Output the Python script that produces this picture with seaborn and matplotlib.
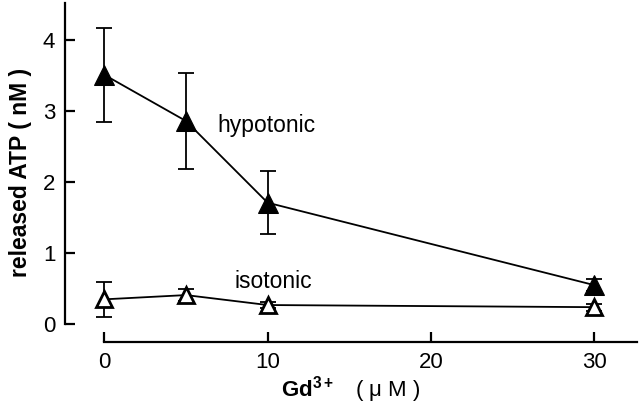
import matplotlib
matplotlib.use('Agg')
import matplotlib.pyplot as plt
import seaborn as sns
import pandas as pd

# Data
gd_conc = [0, 5, 10, 30]
hypo_mean = [3.51, 2.86, 1.71, 0.55]
hypo_err = [0.66, 0.67, 0.44, 0.08]
iso_mean = [0.35, 0.41, 0.27, 0.24]
iso_err = [0.25, 0.09, 0.04, 0.05]

df = pd.DataFrame({
    'gd': gd_conc * 2,
    'atp': hypo_mean + iso_mean,
    'err': hypo_err + iso_err,
    'cond': ['hypotonic'] * 4 + ['isotonic'] * 4,
})

sns.set_theme(style='ticks')
plt.rcParams['font.family'] = ['Liberation Sans', 'DejaVu Sans']
plt.rcParams['mathtext.fontset'] = 'custom'
plt.rcParams['mathtext.rm'] = 'Liberation Sans'
plt.rcParams['mathtext.bf'] = 'Liberation Sans:bold'
plt.rcParams['text.color'] = 'black'
plt.rcParams['axes.labelcolor'] = 'black'

fig = plt.figure(figsize=(6.4, 4.04), dpi=100)
ax = fig.add_axes([0.1016, 0.1535, 0.8934, 0.8391])

# Error bars first so markers sit on top
for cond in ['hypotonic', 'isotonic']:
    d = df[df['cond'] == cond]
    ax.errorbar(d['gd'], d['atp'], yerr=d['err'], fmt='none', ecolor='black',
                elinewidth=1.3, capsize=6, capthick=1.3, zorder=2)

# Lines and markers
sns.lineplot(data=df[df['cond'] == 'hypotonic'], x='gd', y='atp', ax=ax,
             color='black', lw=1.3, marker='^', markersize=14,
             markerfacecolor='black', markeredgecolor='black', zorder=3)
sns.lineplot(data=df[df['cond'] == 'isotonic'], x='gd', y='atp', ax=ax,
             color='black', lw=1.3, marker='^', markersize=11,
             markerfacecolor='white', markeredgecolor='black',
             markeredgewidth=2, zorder=3)

ax.text(6.9, 2.8, 'hypotonic', fontsize=16.5, va='center', ha='left')
ax.text(8.0, 0.6, 'isotonic', fontsize=16.5, va='center', ha='left')

# Axes in the detached style of the original
ax.set_xlim(-2.4, 32.6)
ax.set_ylim(-0.25, 4.52)
sns.despine(ax=ax)
ax.spines['left'].set_bounds(0, 4.52)
ax.spines['bottom'].set_bounds(0, 32.6)
for s in ['left', 'bottom']:
    ax.spines[s].set_linewidth(1.6)
    ax.spines[s].set_color('black')

ax.set_xticks([0, 10, 20, 30])
ax.set_yticks([0, 1, 2, 3, 4])
ax.tick_params(direction='in', length=7, width=1.6, colors='black',
               labelsize=16, pad=7)

ax.set_xlabel(r'$\mathbf{Gd^{3+}}$   ( μ M )', fontsize=16, labelpad=1)
ax.set_ylabel('released ATP ( nM )', fontsize=16.5, fontweight='bold', labelpad=8)

fig.savefig('out.png', dpi=100, facecolor='white')
